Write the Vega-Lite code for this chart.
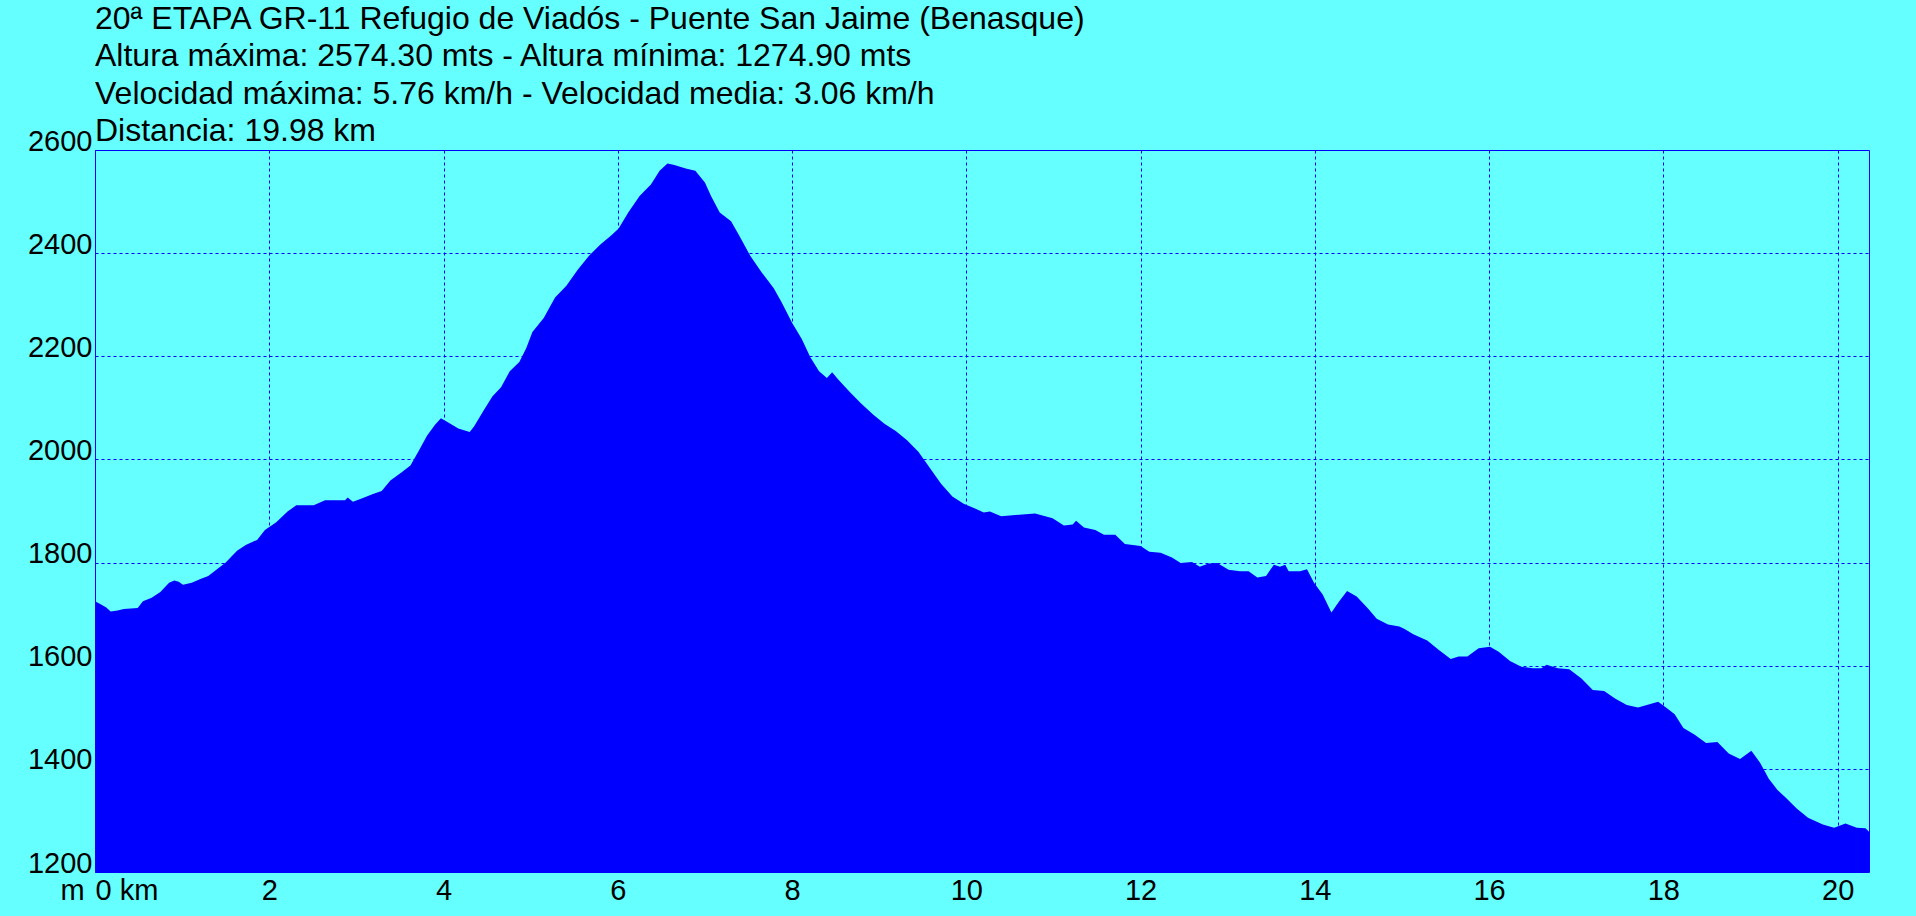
{
  "$schema": "https://vega.github.io/schema/vega-lite/v6.json",
  "width": 1774,
  "height": 722,
  "autosize": "none",
  "padding": {"left": 95, "top": 150, "right": 47, "bottom": 44},
  "background": "#66ffff",
  "title": {
    "text": [
      "20ª ETAPA GR-11 Refugio de Viadós - Puente San Jaime (Benasque)",
      "Altura máxima: 2574.30 mts - Altura mínima: 1274.90 mts",
      "Velocidad máxima: 5.76 km/h - Velocidad media: 3.06 km/h",
      "Distancia: 19.98 km"
    ],
    "anchor": "start",
    "frame": "group",
    "font": "Liberation Sans",
    "fontSize": 32,
    "fontWeight": "normal",
    "color": "#000000",
    "lineHeight": 37.3,
    "offset": -21
  },
  "config": {
    "view": {"stroke": "#0000ff", "strokeWidth": 1, "fill": null},
    "axis": {
      "labelFont": "Liberation Sans",
      "labelFontSize": 29,
      "labelColor": "#000000",
      "titleFont": "Liberation Sans",
      "grid": true,
      "gridColor": "#0000ff",
      "gridDash": [3, 3],
      "gridWidth": 1,
      "gridOpacity": 1,
      "domain": false,
      "ticks": false,
      "tickSize": 0,
      "labelOverlap": false
    }
  },
  "data": {
    "values": [
      {"km": 0.00, "alt": 1725}, {"km": 0.065, "alt": 1719}, {"km": 0.13, "alt": 1713}, {"km": 0.18, "alt": 1705},
      {"km": 0.26, "alt": 1707}, {"km": 0.33, "alt": 1710}, {"km": 0.49, "alt": 1712}, {"km": 0.55, "alt": 1725},
      {"km": 0.65, "alt": 1732}, {"km": 0.75, "alt": 1743}, {"km": 0.85, "alt": 1761}, {"km": 0.91, "alt": 1765},
      {"km": 0.96, "alt": 1763}, {"km": 1.01, "alt": 1757}, {"km": 1.11, "alt": 1761}, {"km": 1.21, "alt": 1768},
      {"km": 1.30, "alt": 1774}, {"km": 1.40, "alt": 1787}, {"km": 1.50, "alt": 1800}, {"km": 1.63, "alt": 1823},
      {"km": 1.73, "alt": 1834}, {"km": 1.86, "alt": 1844}, {"km": 1.95, "alt": 1863}, {"km": 2.08, "alt": 1878},
      {"km": 2.21, "alt": 1899}, {"km": 2.31, "alt": 1911}, {"km": 2.51, "alt": 1911}, {"km": 2.64, "alt": 1921},
      {"km": 2.87, "alt": 1921}, {"km": 2.90, "alt": 1926}, {"km": 2.96, "alt": 1918}, {"km": 3.06, "alt": 1924},
      {"km": 3.19, "alt": 1933}, {"km": 3.29, "alt": 1939}, {"km": 3.39, "alt": 1959}, {"km": 3.52, "alt": 1975},
      {"km": 3.62, "alt": 1988}, {"km": 3.71, "alt": 2015}, {"km": 3.81, "alt": 2046}, {"km": 3.90, "alt": 2067},
      {"km": 3.97, "alt": 2080}, {"km": 4.04, "alt": 2073}, {"km": 4.17, "alt": 2060}, {"km": 4.30, "alt": 2053},
      {"km": 4.35, "alt": 2064}, {"km": 4.46, "alt": 2095}, {"km": 4.56, "alt": 2122}, {"km": 4.66, "alt": 2140},
      {"km": 4.76, "alt": 2171}, {"km": 4.87, "alt": 2189}, {"km": 4.95, "alt": 2216}, {"km": 5.02, "alt": 2247},
      {"km": 5.15, "alt": 2274}, {"km": 5.28, "alt": 2314}, {"km": 5.41, "alt": 2337}, {"km": 5.54, "alt": 2368},
      {"km": 5.67, "alt": 2395}, {"km": 5.80, "alt": 2417}, {"km": 5.93, "alt": 2435}, {"km": 6.01, "alt": 2448},
      {"km": 6.12, "alt": 2479}, {"km": 6.25, "alt": 2511}, {"km": 6.38, "alt": 2533}, {"km": 6.48, "alt": 2560},
      {"km": 6.57, "alt": 2574}, {"km": 6.65, "alt": 2571}, {"km": 6.78, "alt": 2564}, {"km": 6.89, "alt": 2560},
      {"km": 7.00, "alt": 2537}, {"km": 7.07, "alt": 2511}, {"km": 7.17, "alt": 2479}, {"km": 7.30, "alt": 2462},
      {"km": 7.39, "alt": 2435}, {"km": 7.52, "alt": 2395}, {"km": 7.65, "alt": 2363}, {"km": 7.79, "alt": 2332},
      {"km": 7.88, "alt": 2305}, {"km": 8.00, "alt": 2265}, {"km": 8.11, "alt": 2234}, {"km": 8.21, "alt": 2198},
      {"km": 8.31, "alt": 2171}, {"km": 8.40, "alt": 2158}, {"km": 8.46, "alt": 2169}, {"km": 8.53, "alt": 2155},
      {"km": 8.66, "alt": 2131}, {"km": 8.79, "alt": 2109}, {"km": 8.93, "alt": 2087}, {"km": 9.06, "alt": 2069},
      {"km": 9.19, "alt": 2055}, {"km": 9.32, "alt": 2037}, {"km": 9.45, "alt": 2015}, {"km": 9.58, "alt": 1984},
      {"km": 9.71, "alt": 1953}, {"km": 9.84, "alt": 1928}, {"km": 9.97, "alt": 1914}, {"km": 10.10, "alt": 1905},
      {"km": 10.20, "alt": 1897}, {"km": 10.27, "alt": 1899}, {"km": 10.40, "alt": 1890}, {"km": 10.53, "alt": 1892},
      {"km": 10.79, "alt": 1895}, {"km": 10.99, "alt": 1886}, {"km": 11.12, "alt": 1872}, {"km": 11.22, "alt": 1874},
      {"km": 11.26, "alt": 1881}, {"km": 11.35, "alt": 1868}, {"km": 11.48, "alt": 1863}, {"km": 11.58, "alt": 1854},
      {"km": 11.71, "alt": 1854}, {"km": 11.82, "alt": 1836}, {"km": 12.00, "alt": 1832}, {"km": 12.10, "alt": 1821},
      {"km": 12.23, "alt": 1819}, {"km": 12.36, "alt": 1810}, {"km": 12.46, "alt": 1799}, {"km": 12.59, "alt": 1801},
      {"km": 12.68, "alt": 1792}, {"km": 12.78, "alt": 1798}, {"km": 12.88, "alt": 1799}, {"km": 13.01, "alt": 1786},
      {"km": 13.14, "alt": 1783}, {"km": 13.24, "alt": 1783}, {"km": 13.34, "alt": 1771}, {"km": 13.44, "alt": 1774},
      {"km": 13.53, "alt": 1796}, {"km": 13.60, "alt": 1792}, {"km": 13.66, "alt": 1796}, {"km": 13.70, "alt": 1783},
      {"km": 13.83, "alt": 1783}, {"km": 13.91, "alt": 1787}, {"km": 13.99, "alt": 1761}, {"km": 14.09, "alt": 1738},
      {"km": 14.19, "alt": 1703}, {"km": 14.28, "alt": 1725}, {"km": 14.37, "alt": 1745}, {"km": 14.48, "alt": 1734},
      {"km": 14.61, "alt": 1711}, {"km": 14.71, "alt": 1691}, {"km": 14.84, "alt": 1680}, {"km": 14.97, "alt": 1676},
      {"km": 15.03, "alt": 1671}, {"km": 15.13, "alt": 1661}, {"km": 15.29, "alt": 1649}, {"km": 15.42, "alt": 1631},
      {"km": 15.56, "alt": 1613}, {"km": 15.65, "alt": 1618}, {"km": 15.75, "alt": 1618}, {"km": 15.88, "alt": 1634},
      {"km": 16.01, "alt": 1637}, {"km": 16.11, "alt": 1627}, {"km": 16.24, "alt": 1609}, {"km": 16.37, "alt": 1598},
      {"km": 16.50, "alt": 1595}, {"km": 16.60, "alt": 1595}, {"km": 16.66, "alt": 1602}, {"km": 16.79, "alt": 1595},
      {"km": 16.92, "alt": 1593}, {"km": 17.06, "alt": 1575}, {"km": 17.19, "alt": 1553}, {"km": 17.32, "alt": 1551},
      {"km": 17.45, "alt": 1536}, {"km": 17.58, "alt": 1524}, {"km": 17.71, "alt": 1519}, {"km": 17.81, "alt": 1524},
      {"km": 17.94, "alt": 1530}, {"km": 18.03, "alt": 1519}, {"km": 18.13, "alt": 1506}, {"km": 18.23, "alt": 1479},
      {"km": 18.36, "alt": 1466}, {"km": 18.49, "alt": 1450}, {"km": 18.62, "alt": 1452}, {"km": 18.75, "alt": 1430},
      {"km": 18.88, "alt": 1419}, {"km": 19.01, "alt": 1435}, {"km": 19.11, "alt": 1412}, {"km": 19.21, "alt": 1381},
      {"km": 19.31, "alt": 1359}, {"km": 19.40, "alt": 1345}, {"km": 19.53, "alt": 1323}, {"km": 19.66, "alt": 1305},
      {"km": 19.83, "alt": 1292}, {"km": 19.96, "alt": 1286}, {"km": 20.09, "alt": 1294}, {"km": 20.22, "alt": 1286},
      {"km": 20.32, "alt": 1285}, {"km": 20.36, "alt": 1278}
    ]
  },
  "mark": {"type": "area", "color": "#0000ff", "clip": true, "interpolate": "linear"},
  "encoding": {
    "x": {
      "field": "km",
      "type": "quantitative",
      "scale": {"domain": [0, 20.36], "nice": false, "zero": false},
      "axis": {
        "values": [0, 2, 4, 6, 8, 10, 12, 14, 16, 18, 20],
        "labelExpr": "datum.value === 0 ? '0 km' : datum.label",
        "labelFlush": true,
        "labelBaseline": "alphabetic",
        "labelPadding": 27,
        "title": null
      }
    },
    "y": {
      "field": "alt",
      "type": "quantitative",
      "scale": {"domain": [1200, 2600], "nice": false, "zero": false},
      "axis": {
        "values": [1200, 1400, 1600, 1800, 2000, 2200, 2400, 2600],
        "format": "d",
        "labelBaseline": "alphabetic",
        "labelAlign": "right",
        "labelPadding": 3,
        "labelFlush": false,
        "title": "m",
        "titleAngle": 0,
        "titleAlign": "left",
        "titleBaseline": "alphabetic",
        "titleX": -35,
        "titleY": 749,
        "titleFontSize": 29,
        "titleFontWeight": "normal",
        "titleColor": "#000000"
      }
    }
  }
}
